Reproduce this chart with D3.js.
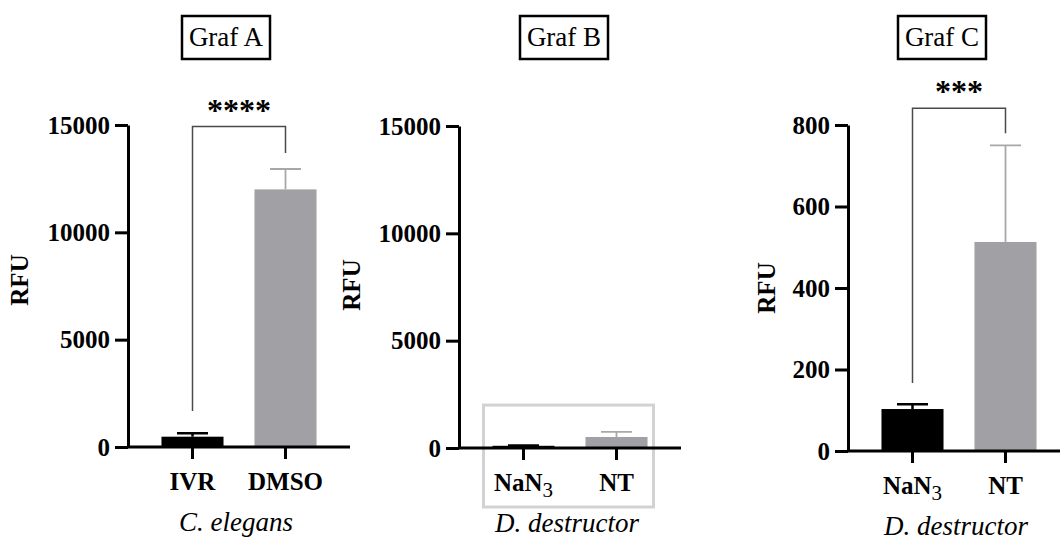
<!DOCTYPE html>
<html lang="en">
<head>
<meta charset="utf-8">
<title>RFU - Graf A, B, C</title>
<script src="https://d3js.org/d3.v7.min.js"></script>
<style>
  body { margin: 0; background: #fff; }
  svg text { font-family: "Liberation Serif", "Times New Roman", serif; }
  .tick line, .domain { stroke: #000; }
</style>
</head>
<body>
<script>
// ---- data ----
var titles = ["Graf A", "Graf B", "Graf C"];
var groupsA = ["IVR", "DMSO"];
var groupsBC = ["NaN3", "NT"];
var meanA = [480, 12000];
var sdA = [160, 950];
var meanBC = [103, 513];
var sdBC = [12, 237];
var ticksAB = [0, 5000, 10000, 15000];
var ticksC = [0, 200, 400, 600, 800];
var species = ["C. elegans", "D. destructor", "D. destructor"];
var stars = ["****", null, "***"];
// significance bracket, in data units: top, left leg end, right leg end
var bracketTop = [14925, null, 841];
var bracketLeft = [1680, null, 167];
var bracketRight = [13700, null, 780];
var highlightTop = 2000; // grey box in Graf B (data units)

// ---- layout ----
var w = 1060, h = 540;
var plotW = 222;
var layout = [
  { x0: 128, y0: 447, yTop: 125, titleCx: 226, rfuX: 28,  rfuY: 280 },
  { x0: 459, y0: 448, yTop: 126, titleCx: 564, rfuX: 360, rfuY: 285 },
  { x0: 848, y0: 451, yTop: 125, titleCx: 942, rfuX: 775, rfuY: 288 }
];
var panelData = [
  { groups: groupsA,  mean: meanA,  sd: sdA,  ticks: ticksAB },
  { groups: groupsBC, mean: meanBC, sd: sdBC, ticks: ticksAB },
  { groups: groupsBC, mean: meanBC, sd: sdBC, ticks: ticksC }
];
var barColor = ["#000000", "#a0a0a5"];
var errColor = ["#000000", "#a8a8a8"];

var svg = d3.select("body").append("svg")
  .attr("width", w)
  .attr("height", h);

panelData.forEach(function(p, i) {
  var L = layout[i];
  var g = svg.append("g");

  var x = d3.scaleBand()
    .domain(p.groups)
    .range([L.x0, L.x0 + plotW])
    .paddingInner(0.333)
    .paddingOuter(0.36);

  var yMax = p.ticks[p.ticks.length - 1];
  var y = d3.scaleLinear().domain([0, yMax]).range([L.y0, L.yTop]);

  // highlight box (Graf B only)
  if (i === 1) {
    var bx0 = x(p.groups[0]) - 9;
    var bx1 = x(p.groups[1]) + x.bandwidth() + 6;
    g.append("rect")
      .attr("x", bx0)
      .attr("y", y(highlightTop))
      .attr("width", bx1 - bx0)
      .attr("height", L.y0 + 59 - y(highlightTop))
      .attr("fill", "none")
      .attr("stroke", "#d2d2d2")
      .attr("stroke-width", 3);
  }

  // bars
  g.selectAll(".bar")
    .data(p.groups)
    .enter()
    .append("rect")
    .attr("class", "bar")
    .attr("x", function(d) { return x(d); })
    .attr("y", function(d, j) { return y(p.mean[j]); })
    .attr("width", x.bandwidth())
    .attr("height", function(d, j) { return L.y0 - y(p.mean[j]); })
    .attr("fill", function(d, j) { return barColor[j]; });

  // error bars (upper half only)
  p.groups.forEach(function(d, j) {
    var cx = x(d) + x.bandwidth() / 2;
    var top = y(p.mean[j] + p.sd[j]);
    g.append("line")
      .attr("x1", cx).attr("x2", cx)
      .attr("y1", y(p.mean[j])).attr("y2", top)
      .attr("stroke", errColor[j])
      .attr("stroke-width", j === 0 ? 2.5 : 1.8);
    g.append("line")
      .attr("x1", cx - x.bandwidth() / 4).attr("x2", cx + x.bandwidth() / 4)
      .attr("y1", top).attr("y2", top)
      .attr("stroke", errColor[j])
      .attr("stroke-width", j === 0 ? 2.5 : 1.8);
  });

  // y axis
  var yAxis = g.append("g")
    .attr("transform", "translate(" + L.x0 + ",0)")
    .call(d3.axisLeft(y).tickValues(p.ticks).tickFormat(d3.format("d"))
      .tickSize(13).tickSizeOuter(0).tickPadding(5));
  yAxis.selectAll("path, line").attr("stroke-width", 3);
  yAxis.selectAll("text")
    .attr("fill", "#000")
    .style("font-size", "25px")
    .style("font-weight", "bold");

  // x axis
  var xAxis = g.append("g")
    .attr("transform", "translate(0," + L.y0 + ")")
    .call(d3.axisBottom(x).tickSize(12).tickSizeOuter(0).tickFormat(""));
  xAxis.selectAll("path, line").attr("stroke-width", 3);
  xAxis.select(".domain").attr("d", "M" + (L.x0 - 1) + ",0H" + (L.x0 + plotW));

  // x labels
  p.groups.forEach(function(d) {
    var t = g.append("text")
      .attr("x", x(d) + x.bandwidth() / 2)
      .attr("y", L.y0 + 43)
      .attr("text-anchor", "middle")
      .style("font-size", "25px")
      .style("font-weight", "bold");
    if (d === "NaN3") {
      t.append("tspan").text("NaN");
      t.append("tspan").text("3")
        .attr("dy", 6)
        .style("font-size", "21px")
        .style("font-weight", "normal");
    } else {
      t.text(d);
    }
  });

  // species label
  g.append("text")
    .attr("x", (x(p.groups[0]) + x(p.groups[1]) + x.bandwidth()) / 2 - 3)
    .attr("y", L.y0 + 84)
    .attr("text-anchor", "middle")
    .style("font-size", "27px")
    .style("font-style", "italic")
    .text(species[i]);

  // RFU label
  g.append("text")
    .attr("transform", "translate(" + L.rfuX + "," + L.rfuY + ") rotate(-90)")
    .attr("text-anchor", "middle")
    .style("font-size", "25px")
    .style("font-weight", "bold")
    .text("RFU");

  // title box
  g.append("rect")
    .attr("x", L.titleCx - 44)
    .attr("y", 16)
    .attr("width", 88)
    .attr("height", 43)
    .attr("fill", "none")
    .attr("stroke", "#000")
    .attr("stroke-width", 2.5);
  g.append("text")
    .attr("x", L.titleCx)
    .attr("y", 46)
    .attr("text-anchor", "middle")
    .style("font-size", "27px")
    .text(titles[i]);

  // significance bracket
  if (stars[i]) {
    var lx = x(p.groups[0]) + x.bandwidth() / 2;
    var rx = x(p.groups[1]) + x.bandwidth() / 2;
    g.append("path")
      .attr("d", "M" + lx + "," + y(bracketLeft[i]) +
                 "V" + y(bracketTop[i]) +
                 "H" + rx +
                 "V" + y(bracketRight[i]))
      .attr("fill", "none")
      .attr("stroke", "#4a4a4a")
      .attr("stroke-width", 1.5);
    g.append("text")
      .attr("x", (lx + rx) / 2)
      .attr("y", y(bracketTop[i]) - 6)
      .attr("text-anchor", "middle")
      .style("font-size", "32px")
      .style("font-weight", "bold")
      .text(stars[i]);
  }
});
</script>
</body>
</html>
